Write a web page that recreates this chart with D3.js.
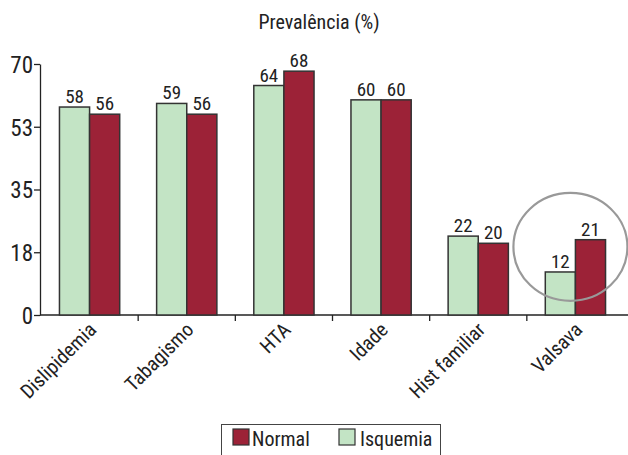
<!DOCTYPE html>
<html><head><meta charset="utf-8">
<script src="https://cdn.jsdelivr.net/npm/d3@7"></script>
<style>
body{margin:0;background:#fff;}
text{font-family:"Liberation Sans Narrow","Arial Narrow","Roboto Condensed",sans-serif;fill:#222;}
</style></head>
<body><svg id="c" width="628" height="455"></svg>
<script>
const categories = ["Dislipidemia","Tabagismo","HTA","Idade","Hist familiar","Valsava"];
const isquemia = [58,59,64,60,22,12];
const normal = [56,56,68,60,20,21];
const yTicks = [0,17.5,35,52.5,70];
const yTickLabels = ["0","18","35","53","70"];
const seriesNames = ["Isquemia","Normal"];
const colors = {Isquemia:"#c3e4c5", Normal:"#9c2237"};

const svg = d3.select("#c");
const x = d3.scaleBand().domain(categories).range([41,624]).paddingInner(0.38).paddingOuter(0.19);
const x1 = d3.scaleBand().domain(seriesNames).range([0,x.bandwidth()]);
const y = d3.scaleLinear().domain([0,70]).range([315,64]);

svg.append("text").attr("x",319).attr("y",29).attr("text-anchor","middle").attr("font-size",20).text("Prevalência (%)");

// y axis
const ya = svg.append("g").attr("transform","translate(40,0)")
  .call(d3.axisLeft(y).tickValues(yTicks).tickFormat((d,i)=>yTickLabels[i]).tickSize(6).tickSizeOuter(0));
ya.select(".domain").attr("stroke","#222").attr("stroke-width",1.3);
ya.selectAll(".tick line").attr("stroke","#222").attr("stroke-width",1.3);
ya.selectAll(".tick text").attr("font-size",23).attr("x",-7).attr("dy","0.36em").attr("fill","#222")
  .attr("font-family","Liberation Sans Narrow, Arial Narrow, Roboto Condensed, sans-serif");

// x axis
const xa = svg.append("g").attr("transform","translate(0,315)");
xa.append("line").attr("x1",40).attr("x2",628).attr("stroke","#222").attr("stroke-width",1.3);
categories.slice(1).forEach(c=>{
  const xx = x(c) - x.step()*x.paddingInner()/2;
  xa.append("line").attr("x1",xx).attr("x2",xx).attr("y1",0).attr("y2",6).attr("stroke","#222").attr("stroke-width",1.3);
});
categories.forEach(c=>{
  const cx = x(c)+x.bandwidth()/2;
  xa.append("text").attr("transform",`translate(${cx+8},${16}) rotate(-45)`)
    .attr("text-anchor","end").attr("font-size",20).text(c);
});

// bars
const g = svg.append("g");
categories.forEach((c,i)=>{
  const vals = {Isquemia:isquemia[i], Normal:normal[i]};
  seriesNames.forEach(s=>{
    const bx = x(c)+x1(s);
    g.append("rect").attr("x",bx).attr("y",y(vals[s])).attr("width",x1.bandwidth())
      .attr("height",y(0)-y(vals[s])).attr("fill",colors[s]).attr("stroke","#333").attr("stroke-width",1.5);
    g.append("text").attr("x",bx+x1.bandwidth()/2).attr("y",y(vals[s])-4).attr("text-anchor","middle")
      .attr("font-size",19).text(vals[s]);
  });
});

// highlight circle on Valsava
const vc = x("Valsava")+x.bandwidth()/2;
svg.append("ellipse").attr("cx",vc-5).attr("cy",y(19)).attr("rx",57).attr("ry",54)
  .attr("fill","none").attr("stroke","#999").attr("stroke-width",2.2);

// legend
const lg = svg.append("g");
lg.append("rect").attr("x",221.5).attr("y",424.5).attr("width",219).attr("height",34).attr("fill","#fff").attr("stroke","#444").attr("stroke-width",1);
const legendItems = [["Normal",233,252],["Isquemia",339,360]];
legendItems.forEach(([s,lx,tx])=>{
  lg.append("rect").attr("x",lx).attr("y",429).attr("width",16).attr("height",16).attr("fill",colors[s]).attr("stroke","#333").attr("stroke-width",1.2);
  lg.append("text").attr("x",tx).attr("y",446).attr("font-size",20).text(s);
});
</script></body></html>
